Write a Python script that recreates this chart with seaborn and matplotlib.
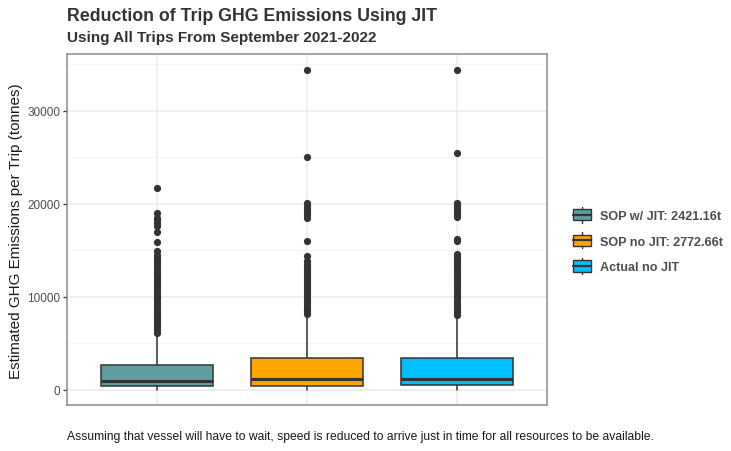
import numpy as np
import pandas as pd
import matplotlib
matplotlib.use("Agg")
import matplotlib.pyplot as plt
from matplotlib.patches import Rectangle
from matplotlib.lines import Line2D
from matplotlib.legend_handler import HandlerBase
import seaborn as sns

# Box summary values (tonnes)
categories = ["SOP w/ JIT: 2421.16t", "SOP no JIT: 2772.66t", "Actual no JIT"]
colors = ["#5F9EA0", "#FFA500", "#00BFFF"]
whisker_lo = [0, 0, 0]
q1 = [360, 420, 460]
medians = [940, 1100, 1100]
q3 = [2610, 3400, 3400]
whisker_hi = [5800, 7800, 7800]

# Outlier points
outliers_sop_jit = [21650, 19050, 18500, 18200, 17900, 17650, 16950, 15850, 14950,
                    14500, 14200, 13900, 13600, 13300, 13000, 12700, 12400, 12100,
                    11800, 11500, 11200, 10900, 10600, 10300, 10000, 9700, 9400,
                    9100, 8800, 8500, 8200, 7900, 7600, 7300, 7000, 6700, 6400, 6100]
outliers_sop_nojit = [34430, 25010, 20100, 19700, 19400, 19100, 18800, 18500, 16000,
                      14400, 13800, 13500, 13200, 12900, 12600, 12300, 12000, 11700,
                      11400, 11100, 10800, 10500, 10200, 9900, 9600, 9300, 9000,
                      8700, 8400, 8100]
outliers_actual = [34430, 25440, 20100, 19800, 19500, 19200, 18900, 18600, 16200,
                   16000, 14600, 14300, 14000, 13700, 13400, 13100, 12800, 12500,
                   12200, 11900, 11600, 11300, 11000, 10700, 10400, 10100, 9800,
                   9500, 9200, 8900, 8600, 8300, 8050]

title = "Reduction of Trip GHG Emissions Using JIT"
subtitle = "Using All Trips From September 2021-2022"
caption = ("Assuming that vessel will have to wait, speed is reduced to arrive just in time "
           "for all resources to be available.")
y_label = "Estimated GHG Emissions per Trip (tonnes)"


class BoxKeyHandler(HandlerBase):
    # ggplot-like mini boxplot legend key
    def __init__(self, facecolor):
        super().__init__()
        self.facecolor = facecolor

    def create_artists(self, legend, orig_handle, xdescent, ydescent, width, height,
                       fontsize, trans):
        cx = -xdescent + width / 2
        y0 = -ydescent
        box = Rectangle((-xdescent, y0 + height * 0.15), width, height * 0.7,
                        facecolor=self.facecolor, edgecolor="#333333", lw=1.0,
                        transform=trans)
        mid = Line2D([-xdescent, -xdescent + width], [y0 + height / 2] * 2,
                     color="#333333", lw=1.6, transform=trans)
        w_top = Line2D([cx, cx], [y0 + height * 0.85, y0 + height],
                       color="#333333", lw=1.0, transform=trans)
        w_bot = Line2D([cx, cx], [y0, y0 + height * 0.15],
                       color="#333333", lw=1.0, transform=trans)
        return [w_top, w_bot, box, mid]


def main():
    sns.set_theme(style="whitegrid")
    plt.rcParams["font.family"] = ["Liberation Sans", "DejaVu Sans"]

    fig = plt.figure(figsize=(7.31, 4.52), dpi=100)
    ax = fig.add_axes([0.0917, 0.1007, 0.6566, 0.7777])

    stats = []
    for i, name in enumerate(categories):
        stats.append(dict(label=name, whislo=whisker_lo[i], q1=q1[i], med=medians[i],
                          q3=q3[i], whishi=whisker_hi[i], fliers=[]))

    bp = ax.bxp(stats, positions=range(len(categories)), widths=0.75, patch_artist=True,
                showfliers=False, showcaps=False,
                boxprops=dict(edgecolor="#333333", linewidth=1.1),
                whiskerprops=dict(color="#333333", linewidth=1.1),
                medianprops=dict(color="#333333", linewidth=2.2))
    for patch, c in zip(bp["boxes"], colors):
        patch.set_facecolor(c)
        patch.set_zorder(3)
    for ln in bp["medians"]:
        ln.set_zorder(4)

    out_df = pd.DataFrame({
        "group": [categories[0]] * len(outliers_sop_jit)
                 + [categories[1]] * len(outliers_sop_nojit)
                 + [categories[2]] * len(outliers_actual),
        "value": outliers_sop_jit + outliers_sop_nojit + outliers_actual,
    })
    sns.stripplot(data=out_df, x="group", y="value", order=categories, jitter=False,
                  color="#333333", size=5.2, linewidth=0, ax=ax, zorder=5)

    ax.set_xlim(-0.6, 2.6)
    ax.set_ylim(-1720, 36120)
    ax.set_yticks([0, 10000, 20000, 30000])
    ax.set_yticks([5000, 15000, 25000, 35000], minor=True)
    ax.set_xticks(range(len(categories)))
    ax.set_xticklabels([])
    ax.set_xlabel("")
    ax.set_ylabel(y_label, fontsize=11, color="#1a1a1a", labelpad=3)

    ax.set_facecolor("white")
    ax.grid(True, which="major", color="#ebebeb", linewidth=1.1)
    ax.grid(True, which="minor", axis="y", color="#f2f2f2", linewidth=0.6)
    ax.set_axisbelow(True)
    for sp in ax.spines.values():
        sp.set_color("#8c8c8c")
        sp.set_linewidth(1.1)
    ax.tick_params(axis="y", which="major", length=3, width=0.9, color="#333333",
                   labelsize=8.5, labelcolor="#4d4d4d", pad=2, left=True)
    ax.tick_params(axis="y", which="minor", length=0)
    ax.tick_params(axis="x", length=0)

    handles = [Rectangle((0, 0), 1, 1) for _ in categories]
    handler_map = {h: BoxKeyHandler(c) for h, c in zip(handles, colors)}
    leg = fig.legend(handles, categories, handler_map=handler_map,
                     loc="center left", bbox_to_anchor=(0.772, 0.466),
                     frameon=False, handlelength=1.4, handleheight=1.6,
                     handletextpad=0.75, labelspacing=0.75, borderpad=0.2,
                     prop=dict(weight="bold", size=9.1))
    for t in leg.get_texts():
        t.set_color("#4d4d4d")

    fig.text(0.0917, 0.963, title, fontsize=12.8, fontweight="bold", color="#333333",
             ha="left", va="center")
    fig.text(0.0917, 0.916, subtitle, fontsize=11, fontweight="bold", color="#333333",
             ha="left", va="center")
    fig.text(0.0917, 0.033, caption, fontsize=8.7, color="#1a1a1a", ha="left", va="center")

    fig.savefig("out.png", dpi=100)
    plt.close(fig)


if __name__ == "__main__":
    main()
